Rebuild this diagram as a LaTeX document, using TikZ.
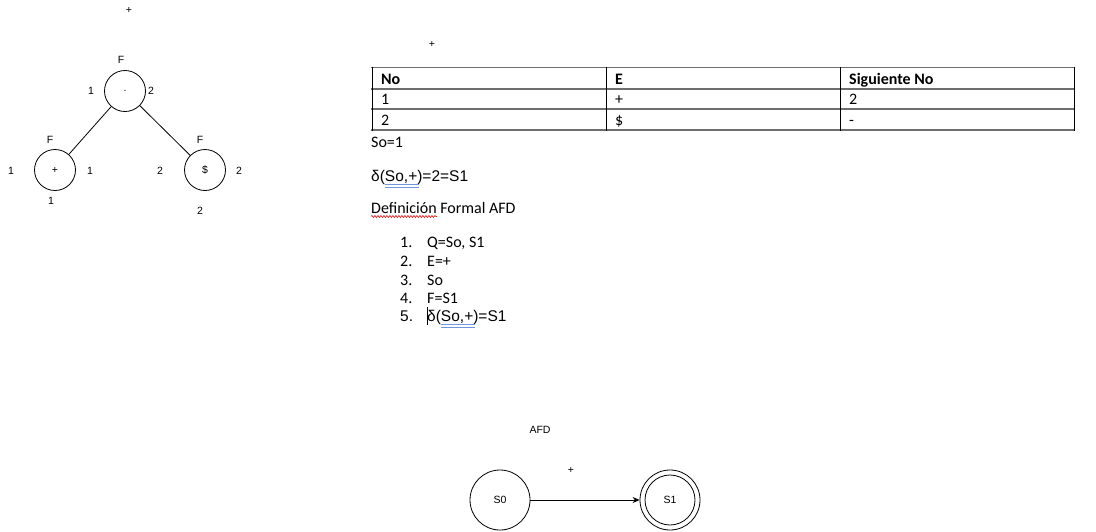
\documentclass[tikz,border=0pt]{standalone}
\usepackage{fontspec}
\setmainfont{Carlito}
\newfontfamily\arial{Liberation Sans}
\usetikzlibrary{arrows.meta,decorations.pathmorphing}
\definecolor{tblgray}{RGB}{110,110,110}
\definecolor{spellred}{RGB}{220,40,40}
\definecolor{spellblue}{RGB}{110,150,220}
\tikzset{
  treecirc/.style={circle,draw,line width=0.8pt,minimum size=41pt,inner sep=0pt,font=\arial\fontsize{10.5}{12}\selectfont},
  tlabel/.style={inner sep=0pt,font=\arial\fontsize{10.5}{12}\selectfont},
  cell/.style={anchor=base west,inner sep=0pt,font=\fontsize{16}{19}\selectfont},
  hcell/.style={cell,font=\bfseries\fontsize{16}{19}\selectfont},
  doc/.style={anchor=base west,inner sep=0pt,font=\fontsize{16}{19}\selectfont},
  docarial/.style={anchor=base west,inner sep=0pt,font=\arial\fontsize{15.5}{18}\selectfont},
  state/.style={circle,draw,line width=0.8pt,minimum size=60pt,inner sep=0pt,font=\arial\fontsize{10.5}{12}\selectfont},
  hline/.style={draw=tblgray,line width=1.4pt},
  vline/.style={draw=black,line width=0.9pt},
}
\begin{document}
\begin{tikzpicture}[x=1pt,y=-1pt]
\useasboundingbox (0,0) rectangle (1096,531);
% ---------- tree ----------
\node[tlabel] (plustop) at (129,10) {+};
\node[treecirc] (cat) at (125,91) {.};
\node[treecirc] (plus) at (55,170) {+};
\node[treecirc] (dollar) at (205,170) {\$};
\draw[line width=0.8pt] (cat) -- (plus);
\draw[line width=0.8pt] (cat) -- (dollar);
\node[tlabel] (fcat) at (121,60) {F};
\node[tlabel] (lcat) at (91,91) {1};
\node[tlabel] (rcat) at (151,91) {2};
\node[tlabel] (fplus) at (50,140) {F};
\node[tlabel] (lplus) at (11,171) {1};
\node[tlabel] (rplus) at (90,171) {1};
\node[tlabel] (bplus) at (51,201) {1};
\node[tlabel] (fdol) at (200,140) {F};
\node[tlabel] (ldol) at (160,171) {2};
\node[tlabel] (rdol) at (239,171) {2};
\node[tlabel] (bdol) at (200,211) {2};
% ---------- table ----------
\node[tlabel] (plustab) at (432,44) {+};
\draw[hline] (371,67.5) -- (1075,67.5);
\draw[hline] (371,89) -- (1075,89);
\draw[hline] (371,109) -- (1075,109);
\draw[hline] (371,130) -- (1075,130);
\draw[vline] (372,67) -- (372,130.5);
\draw[vline] (606,67) -- (606,130.5);
\draw[vline] (840,67) -- (840,130.5);
\draw[vline] (1074,67) -- (1074,130.5);
\node[hcell] (hno) at (381,84) {No};
\node[hcell] (he) at (615,84) {E};
\node[hcell] (hsig) at (849,84) {Siguiente No};
\node[cell] (r1a) at (381,104.5) {1};
\node[cell] (r1b) at (615,104.5) {+};
\node[cell] (r1c) at (849,104.5) {2};
\node[cell] (r2a) at (381,125) {2};
\node[cell] (r2b) at (615,125) {\$};
\node[cell] (r2c) at (849,125) {-};
% ---------- text ----------
\node[doc] (so) at (371,147) {So=1};
\node[docarial] (delta) at (371,181) {δ(So,+)=2=S1};
\draw[spellblue,line width=0.8pt] (385,184.5) -- (419,184.5) (385,187) -- (419,187);
\node[doc] (def) at (371,213) {Definición Formal AFD};
\draw[spellred,line width=0.7pt,decorate,decoration={snake,amplitude=1pt,segment length=3pt}] (371,216.5) -- (437,216.5);
\node[doc] (n1) at (400,247) {1.};
\node[doc] (t1) at (427,247) {Q=So, S1};
\node[doc] (n2) at (400,266) {2.};
\node[doc] (t2) at (427,266) {E=+};
\node[doc] (n3) at (400,285) {3.};
\node[doc] (t3) at (427,285) {So};
\node[doc] (n4) at (400,303) {4.};
\node[doc] (t4) at (427,303) {F=S1};
\node[docarial] (n5) at (400,321) {5.};
\node[docarial] (t5) at (427,321) {δ(So,+)=S1};
\draw[black,line width=0.8pt] (427.5,307) -- (427.5,325);
\draw[spellblue,line width=0.8pt] (441,324.5) -- (475,324.5) (441,327) -- (475,327);
% ---------- AFD ----------
\node[tlabel] (afd) at (540,430) {AFD};
\node[state] (s0) at (500,500) {S0};
\node[state] (s1) at (670,500) {S1};
\draw[line width=0.8pt] (s1.center) circle[radius=25];
\node[tlabel] (edgelab) at (571,470) {+};
\draw[line width=0.8pt,-{Stealth[length=7pt,width=6pt]}] (s0) -- (s1);
\end{tikzpicture}
\end{document}
